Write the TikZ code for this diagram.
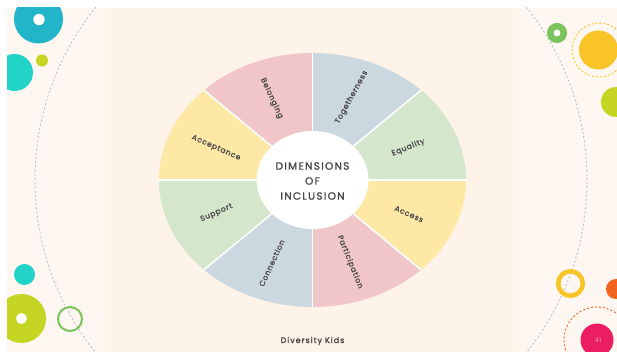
\documentclass[tikz,border=0pt]{standalone}
\usepackage{fontspec}
\setmainfont{Poppins}
\newfontfamily\lblfont[LetterSpace=10,FakeBold=1.2]{Poppins}
\newfontfamily\ttlfont[LetterSpace=12,FakeBold=1.4]{Poppins}
\definecolor{slidebg}{HTML}{FDF6F1}
\definecolor{innerbg}{HTML}{FDF3E8}
\definecolor{dashcol}{HTML}{A9BFCC}
\definecolor{segPink}{HTML}{F1C6C8}
\definecolor{segBlue}{HTML}{CBD8E0}
\definecolor{segGreen}{HTML}{D4E6CB}
\definecolor{segYellow}{HTML}{FDE8A6}
\definecolor{txtcol}{HTML}{474747}
\definecolor{tealc}{HTML}{22B5C9}
\definecolor{turq}{HTML}{22D4C8}
\definecolor{limec}{HTML}{C6D423}
\definecolor{greenr}{HTML}{7BC35B}
\definecolor{yellowc}{HTML}{F9C425}
\definecolor{orangec}{HTML}{F26322}
\definecolor{pinkc}{HTML}{EC1E63}
\definecolor{pinktxt}{HTML}{F49AB6}
\tikzset{
  lbl/.style={text=txtcol, font=\lblfont\fontsize{7.5}{8}\selectfont, inner sep=0pt},
  ttl/.style={text=txtcol, font=\ttlfont\fontsize{10.5}{15}\selectfont, align=center, inner sep=0pt},
  dotted circ/.style={line width=0.9, dash pattern=on 2pt off 2pt}
}
\begin{document}
\begin{tikzpicture}[x=1pt,y=1pt]
\useasboundingbox (0,0) rectangle (617,352);
\fill[white] (0,0) rectangle (617,352);
\begin{scope}
\clip (7,0) rectangle (617,344);
\fill[slidebg] (7,0) rectangle (617,344);
\fill[innerbg] (105,0) rectangle (519,344);
\draw[dashcol, line width=0.8, dash pattern=on 2pt off 2.2pt] (311,172) circle (276);
% top-left
\fill[tealc] (38.5,333) circle (24.5);
\fill[white] (39,332.5) circle (5.7);
\fill[turq] (14.5,279.5) circle (18.5);
\fill[limec] (42,291.5) circle (6);
% top-right
\fill[white] (557,319) circle (4);
\draw[greenr, line width=6.5] (557,319) circle (6.75);
\draw[yellowc, dotted circ] (599,302) circle (27);
\fill[yellowc] (598.5,302) circle (19.5);
\fill[limec] (616,250) circle (15);
% bottom-left
\fill[turq] (24.5,77.5) circle (10.5);
\fill[limec] (21.5,33.5) circle (24.5);
\fill[white] (21.5,33.5) circle (5.5);
\draw[greenr, line width=2] (70,33) circle (12);
% bottom-right
\draw[yellowc, line width=4.5] (570.5,68.5) circle (12.3);
\fill[orangec] (616,63) circle (10);
\draw[orangec, dotted circ] (597,12) circle (33);
\fill[pinkc] (597,12) circle (16.5);
\node[text=pinktxt, font=\fontsize{6.5}{7}\selectfont, inner sep=0pt] (pagenum) at (598,11.5) {41};
\end{scope}
% wheel
\coordinate (c) at (312.5,172);
\foreach \a/\col in {0/segGreen,45/segBlue,90/segPink,135/segYellow,180/segGreen,225/segBlue,270/segPink,315/segYellow}
  \fill[\col] (c) -- ++(\a:153.5 and 127) arc[start angle=\a, delta angle=45, x radius=153.5, y radius=127] -- cycle;
\foreach \a in {0,45,...,315}
  \draw[white, line width=1.5] (c) -- ++(\a:153.5 and 127);
\fill[white] (c) ellipse [x radius=56, y radius=49];
\node[ttl] (title) at (312.5,171) {DIMENSIONS\\OF\\INCLUSION};
\node[lbl, rotate=-65] (belonging) at (271.7,253.7) {Belonging};
\node[lbl, rotate=61] (together) at (351.7,254.7) {Togetherness};
\node[lbl, rotate=22] (equality) at (408.3,204.5) {Equality};
\node[lbl, rotate=-24] (access) at (409,138) {Access};
\node[lbl, rotate=-68] (particip) at (350,90) {Participation};
\node[lbl, rotate=65] (connect) at (271.7,89) {Connection};
\node[lbl, rotate=24] (support) at (216.5,139) {Support};
\node[lbl, rotate=-24] (accept) at (216,204) {Acceptance};
\node[text=txtcol, font=\ttlfont\fontsize{8}{9}\selectfont, inner sep=0pt] (footer) at (312.5,11) {Diversity Kids};
\end{tikzpicture}
\end{document}
